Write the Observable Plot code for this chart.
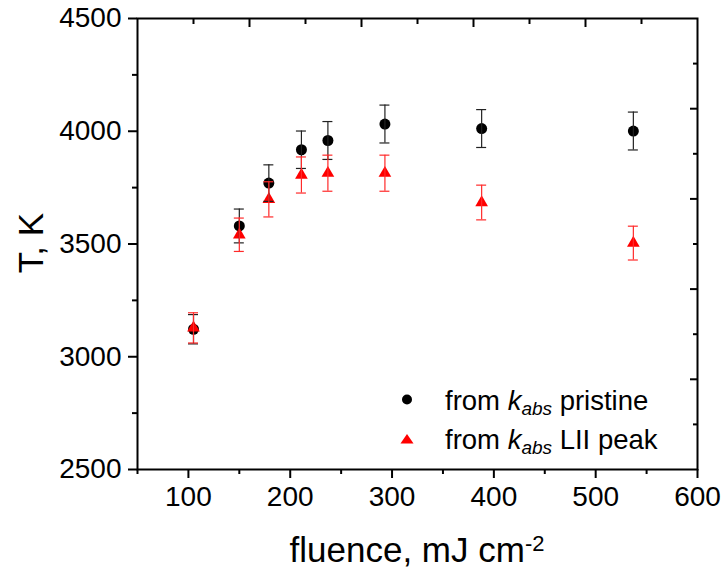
<!DOCTYPE html>
<html><head><meta charset="utf-8">
<script src="https://cdn.jsdelivr.net/npm/d3@7"></script>
<script src="https://cdn.jsdelivr.net/npm/@observablehq/plot@0.6"></script>
<style>
body{margin:0;background:#fff;}
#wrap{position:relative;width:723px;height:570px;font-family:"Liberation Sans",Arial,sans-serif;}
#overlay{position:absolute;left:0;top:0;pointer-events:none;}
</style></head><body><div id="wrap"></div>
<script>
// Data
const fluence      = [105, 150, 179, 211, 237, 293, 388, 537];
const tPristine    = [3122, 3580, 3770, 3918, 3959, 4032, 4012, 4001];
const errPristine  = [65, 75, 81, 83, 84, 84, 84, 84];
const tPeak        = [3128, 3541, 3698, 3806, 3814, 3814, 3684, 3504];
const errPeak      = [67, 74, 78, 80, 80, 80, 77, 75];

// Tick values
const xMajor = [100, 200, 300, 400, 500, 600];
const xMinor = [50, 150, 250, 350, 450, 550];
const yMajor = [2500, 3000, 3500, 4000, 4500];
const yMinor = [2750, 3250, 3750, 4250];
const topMajor = [160, 270, 380, 490];
const topMinor = [105, 215, 325, 435, 545];
const rightMajor = [2900, 3300, 3700, 4100];
const rightMinor = [2700, 3100, 3500, 3900, 4300];

const seriesNames = ["pristine", "LII peak"];

const pristine = fluence.map((f, i) => ({f, t: tPristine[i], lo: tPristine[i] - errPristine[i], hi: tPristine[i] + errPristine[i]}));
const peak = fluence.map((f, i) => ({f, t: tPeak[i], lo: tPeak[i] - errPeak[i], hi: tPeak[i] + errPeak[i]}));

function errorBars(data, color) {
  return [
    Plot.ruleX(data, {x: "f", y1: "lo", y2: "hi", stroke: color, strokeWidth: 1.2}),
    Plot.ruleY(data, {y: "hi", x1: "f", x2: "f", insetLeft: -5, insetRight: -5, stroke: color, strokeWidth: 1.2}),
    Plot.ruleY(data, {y: "lo", x1: "f", x2: "f", insetLeft: -5, insetRight: -5, stroke: color, strokeWidth: 1.2})
  ];
}

const fmt = d => String(d);
const none = () => "";

const plot = Plot.plot({
  width: 723, height: 570,
  marginLeft: 137, marginRight: 26, marginTop: 18, marginBottom: 101,
  style: {fontFamily: '"Liberation Sans", Arial, sans-serif', fontSize: "28px", color: "black", background: "white"},
  x: {domain: [50, 600]},
  y: {domain: [2500, 4500]},
  marks: [
    Plot.axisX({ticks: xMajor, tickSize: 9, tickPadding: 8, tickFormat: fmt, strokeWidth: 2, fontSize: 28, label: null}),
    Plot.axisX({ticks: xMinor, tickSize: 5, tickFormat: none, strokeWidth: 2, label: null}),
    Plot.axisY({ticks: yMajor, tickSize: 9, tickPadding: 7, tickFormat: fmt, strokeWidth: 2, fontSize: 28, label: null}),
    Plot.axisY({ticks: yMinor, tickSize: 5, tickFormat: none, strokeWidth: 2, label: null}),
    Plot.axisX({anchor: "top", ticks: topMajor, tickSize: -8, tickFormat: none, strokeWidth: 2, label: null}),
    Plot.axisX({anchor: "top", ticks: topMinor, tickSize: -5, tickFormat: none, strokeWidth: 2, label: null}),
    Plot.axisY({anchor: "right", ticks: rightMajor, tickSize: -8, tickFormat: none, strokeWidth: 2, label: null}),
    Plot.axisY({anchor: "right", ticks: rightMinor, tickSize: -5, tickFormat: none, strokeWidth: 2, label: null}),
    Plot.frame({stroke: "black", strokeWidth: 2}),
    Plot.dot(pristine, {x: "f", y: "t", r: 5.5, fill: "black"}),
    Plot.dot(peak, {x: "f", y: "t", r: 4.7, symbol: "triangle", fill: "#ff0000"}),
    ...errorBars(pristine, "#222"),
    ...errorBars(peak, "#ff2a2a")
  ]
});

const wrap = document.getElementById("wrap");
wrap.appendChild(plot);

// Titles and legend overlay
const ov = d3.select(wrap).append("svg").attr("id", "overlay").attr("width", 723).attr("height", 570)
  .style("font-family", '"Liberation Sans", Arial, sans-serif');

// x title
const xt = ov.append("text").attr("x", 417).attr("y", 562).attr("text-anchor", "middle").attr("font-size", 35).attr("fill", "black");
xt.append("tspan").text("fluence, mJ cm");
xt.append("tspan").attr("font-size", 22).attr("dy", -11).text("-2");

// y title
ov.append("text").attr("transform", "translate(43,243) rotate(-90)").attr("text-anchor", "middle")
  .attr("font-size", 35).attr("fill", "black").text("T, K");

// legend
ov.append("circle").attr("cx", 407).attr("cy", 399.5).attr("r", 5).attr("fill", "black");
ov.append("path").attr("d", "M407,434L413.5,443.6L400.5,443.6Z").attr("fill", "#ff0000");
const rows = [{y: 409.5}, {y: 448.5}];
rows.forEach((r, i) => {
  const t = ov.append("text").attr("x", 445).attr("y", r.y).attr("font-size", 27.5).attr("fill", "black");
  t.append("tspan").text("from ");
  t.append("tspan").attr("font-style", "italic").text("k");
  t.append("tspan").attr("font-style", "italic").attr("font-size", 19).attr("dy", 5).text("abs");
  t.append("tspan").attr("dy", -5).text(" " + seriesNames[i]);
});
</script></body></html>
